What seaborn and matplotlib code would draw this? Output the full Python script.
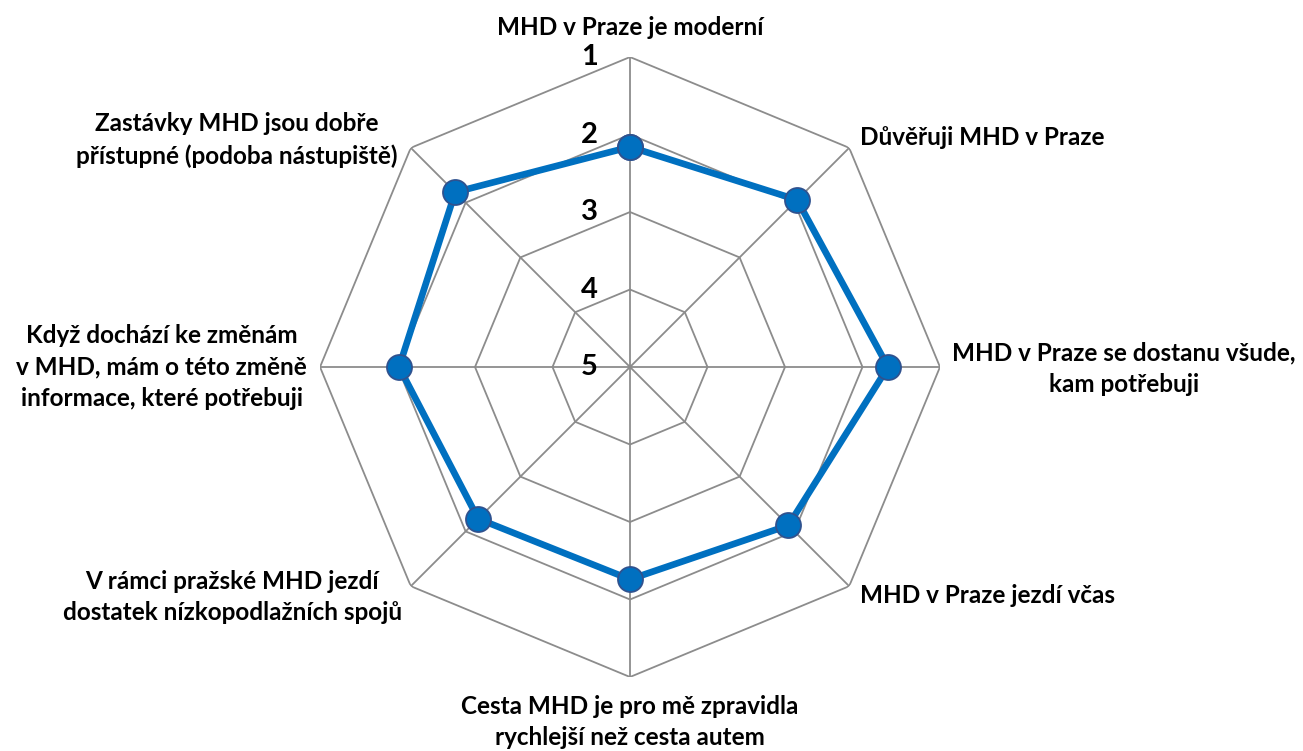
import numpy as np
import pandas as pd
import matplotlib
matplotlib.use("Agg")
import matplotlib.pyplot as plt
import seaborn as sns

# Survey statements (clockwise from top) and mean scores (1 = best, outer ring)
labels = [
    "MHD v Praze je moderní",
    "Důvěřuji MHD v Praze",
    "MHD v Praze se dostanu všude,\nkam potřebuji",
    "MHD v Praze jezdí včas",
    "Cesta MHD je pro mě zpravidla\nrychlejší než cesta autem",
    "V rámci pražské MHD jezdí\ndostatek nízkopodlažních spojů",
    "Když dochází ke změnám\nv MHD, mám o této změně\ninformace, které potřebuji",
    "Zastávky MHD jsou dobře\npřístupné (podoba nástupiště)",
]
scores = [2.16, 1.95, 1.67, 2.11, 2.26, 2.23, 2.02, 1.81]
levels = [1, 2, 3, 4, 5]

sns.set_theme(style="white")
plt.rcParams['font.family'] = ['Lato', 'DejaVu Sans']

GRID = "#8c8c8c"
BLUE = "#0070c0"

n = len(labels)
theta = np.arange(n) * 2 * np.pi / n
theta_closed = np.append(theta, 2 * np.pi)

df = pd.DataFrame({"theta": theta_closed, "score": scores + scores[:1]})

fig = plt.figure(figsize=(13.03, 7.51), dpi=100)
ax = fig.add_axes([0.2456, 0.0985, 0.4758, 0.8256], projection="polar")
ax.set_theta_zero_location("N")
ax.set_theta_direction(-1)
ax.set_ylim(5, 1)
ax.grid(False)
ax.spines["polar"].set_visible(False)
ax.set_xticks([])
ax.set_yticks([])

# octagonal rings and spokes
for lv in levels[:-1]:
    ax.plot(theta_closed, [lv] * (n + 1), color=GRID, lw=1.3, zorder=1)
for t in theta:
    ax.plot([t, t], [5, 1], color=GRID, lw=1.3, zorder=1)

sns.lineplot(data=df, x="theta", y="score", ax=ax, color=BLUE, lw=4.8,
             marker="o", markersize=18, markeredgecolor="#2f528f",
             markeredgewidth=1.3, zorder=3, sort=False)
ax.set_xlabel("")
ax.set_ylabel("")

# ring labels
for lv in levels:
    ax.annotate(str(lv), xy=(0, lv), xytext=(-32, 0), textcoords="offset pixels",
                ha="right", va="center", fontsize=21, fontweight="bold",
                color="black", annotation_clip=False)

# category labels: (offset px, ha)
label_pos = [
    ((0, 30), "center"),
    ((11, 10), "left"),
    ((12, -2), "left"),
    ((11, -9), "left"),
    ((0, -45), "center"),
    ((-9, -11), "right"),
    ((-13, 0), "right"),
    ((-13, 8), "right"),
]
for t, lab, (off, ha) in zip(theta, labels, label_pos):
    ax.annotate(lab, xy=(t, 1), xytext=off, textcoords="offset pixels",
                ha=ha, va="center", multialignment="center", fontsize=17.5,
                fontweight="bold", color="black", linespacing=1.45,
                annotation_clip=False)

fig.savefig("out.png", dpi=100)
